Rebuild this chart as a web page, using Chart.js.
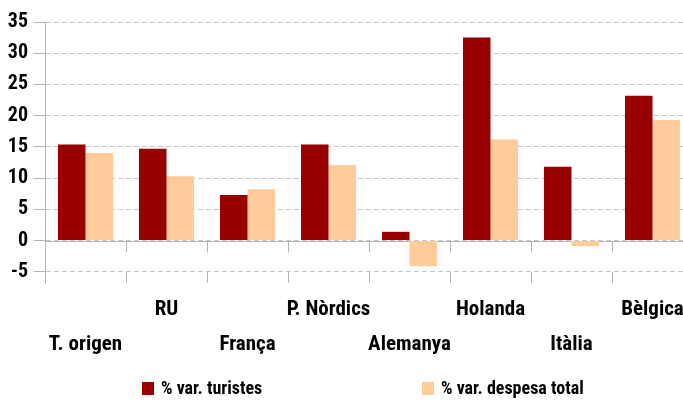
<!DOCTYPE html>
<html>
<head>
<meta charset="utf-8">
<script src="https://cdn.jsdelivr.net/npm/chart.js@4/dist/chart.umd.min.js"></script>
<style>
  html, body { margin: 0; padding: 0; background: #fff; overflow: hidden; }
  #wrap { position: relative; width: 683px; height: 405px; overflow: hidden; }
  #wrap canvas { position: absolute; left: 0; top: 0; }
  .leg { position: absolute; top: 377px; line-height: 20px; font: bold 18px 'Roboto Condensed', 'Open Sans', sans-serif; color: #000; white-space: nowrap; }
  .leg i { display: inline-block; width: 12px; height: 13px; margin-right: 7px; vertical-align: -1px; }
</style>
</head>
<body>
<div id="wrap">
    <canvas id="stats" width="693" height="405"></canvas>
    <div class="leg" style="left:142px"><i style="background:#990000"></i>% var. turistes</div>
    <div class="leg" style="left:422px"><i style="background:#FFCC99"></i>% var. despesa total</div>
</div>

<script>
    // dades
    var cats = ['T. origen', 'RU', 'França', 'P. Nòrdics', 'Alemanya', 'Holanda', 'Itàlia', 'Bèlgica'];
    var turistes = [15.4, 14.7, 7.3, 15.4, 1.4, 32.5, 11.8, 23.2];
    var despesa = [14.0, 10.3, 8.2, 12.1, -4.1, 16.2, -0.9, 19.3];
    var yTicks = [-5, 0, 5, 10, 15, 20, 25, 30, 35];

    var font = "'Roboto Condensed', 'Open Sans', sans-serif";
    var gray = '#b5b5b5';

    // linia del zero i marques de categoria
    var axisMarks = {
        id: 'axisMarks',
        beforeDatasetsDraw: function (chart) {
            var ctx = chart.ctx, a = chart.chartArea;
            var y0 = Math.round(chart.scales.y.getPixelForValue(0)) + 0.5;
            var step = (a.right - a.left) / cats.length;
            ctx.save();
            ctx.strokeStyle = gray;
            ctx.lineWidth = 1;
            ctx.beginPath();
            ctx.moveTo(a.left, y0);
            ctx.lineTo(a.right, y0);
            for (var i = 1; i < cats.length; i++) {
                var px = Math.round(a.left + i * step) + 0.5;
                ctx.moveTo(px, y0);
                ctx.lineTo(px, y0 + 11);
                ctx.moveTo(px, a.bottom - 11);
                ctx.lineTo(px, a.bottom);
            }
            ctx.stroke();
            ctx.restore();
        }
    };

    new Chart(document.getElementById('stats').getContext('2d'), {
        type: 'bar',
        data: {
            labels: cats,
            datasets: [
                {label: '% var. turistes', data: turistes, backgroundColor: '#990000'},
                {label: '% var. despesa total', data: despesa, backgroundColor: '#FFCC99'}
            ]
        },
        options: {
            responsive: false,
            animation: false,
            layout: {padding: {top: 22, left: 0, right: 0, bottom: 0}},
            datasets: {bar: {categoryPercentage: 0.68, barPercentage: 1}},
            plugins: {legend: {display: false}, tooltip: {enabled: false}},
            scales: {
                x: {
                    grid: {display: false, drawTicks: false},
                    border: {display: false},
                    afterFit: function (s) { s.height = 122; },
                    ticks: {
                        autoSkip: false, maxRotation: 0, padding: 9,
                        color: '#000',
                        font: {family: font, size: 21, weight: 'bold', lineHeight: 1.67},
                        callback: function (v, i) { return i % 2 ? cats[i] : ['', cats[i]]; }
                    }
                },
                y: {
                    min: -6.8, max: 35,
                    afterFit: function (s) { s.width = 45; },
                    afterBuildTicks: function (s) {
                        s.ticks = yTicks.map(function (v) { return {value: v}; });
                    },
                    grid: {color: '#c8c8c8', lineWidth: 1, tickLength: 11, tickColor: gray, tickBorderDash: []},
                    border: {display: true, color: gray, width: 1, dash: [5, 3]},
                    ticks: {
                        padding: 6, color: '#000',
                        font: {family: font, size: 20, weight: 'bold'}
                    }
                }
            }
        },
        plugins: [axisMarks]
    });
</script>
</body>
</html>
